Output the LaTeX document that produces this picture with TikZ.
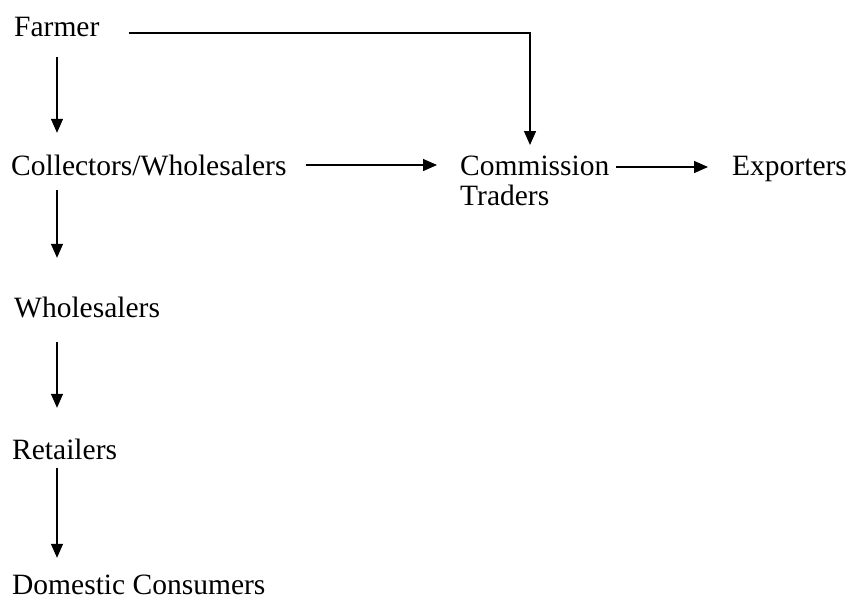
\documentclass[tikz,border=0pt]{standalone}
\usepackage{fontspec}
\setmainfont{Liberation Serif}
\usetikzlibrary{arrows.meta}

\begin{document}
\begin{tikzpicture}[
        x=1pt, y=-1pt,
        label/.style={anchor=base west, inner sep=0pt, text height=20pt, text depth=7pt,
                      font=\fontsize{29.5}{30}\selectfont},
        arrow/.style={line width=1.4pt, -{Triangle[length=14pt, width=12pt]}}
    ]
        \useasboundingbox (0,0) rectangle (850,600);

        \node[label] (farmer) at (14,36) {Farmer};
        \node[label] (collect) at (11,175) {Collectors/Wholesalers};
        \node[label] (whole) at (14,317) {Wholesalers};
        \node[label] (retail) at (12,459) {Retailers};
        \node[label, text depth=1pt] (consumer) at (12,594) {Domestic Consumers};
        % two lines: the base anchor sits on the last one
        \node[label, text height=, text depth=, align=left] (commission) at (460,205) {Commission\\Traders};
        \node[label] (export) at (732,175) {Exporters};
        \coordinate (col) at (57,0);

        \draw[arrow, shorten <=14pt, shorten >=22pt] (farmer.south -| col) -- (collect.north -| col);
        \draw[arrow, shorten <=8pt, shorten >=39pt] (collect.south -| col) -- (whole.north -| col);
        \draw[arrow, shorten <=18pt, shorten >=31pt] (whole.south -| col) -- (retail.north -| col);
        \draw[arrow, shorten <=2pt, shorten >=16pt] (retail.south -| col) -- (consumer.north -| col);

        \draw[arrow] ([xshift=29pt, yshift=3pt]farmer.base east) -| ([xshift=70pt, yshift=60pt]commission.base west);
        \draw[arrow] ([xshift=19pt, yshift=10pt]collect.base east) -- ([xshift=-23pt, yshift=40pt]commission.base west);
        \draw[arrow] ([xshift=6pt, yshift=38pt]commission.base east) -- ([xshift=-24pt, yshift=8pt]export.base west);
    \end{tikzpicture}
\end{document}
